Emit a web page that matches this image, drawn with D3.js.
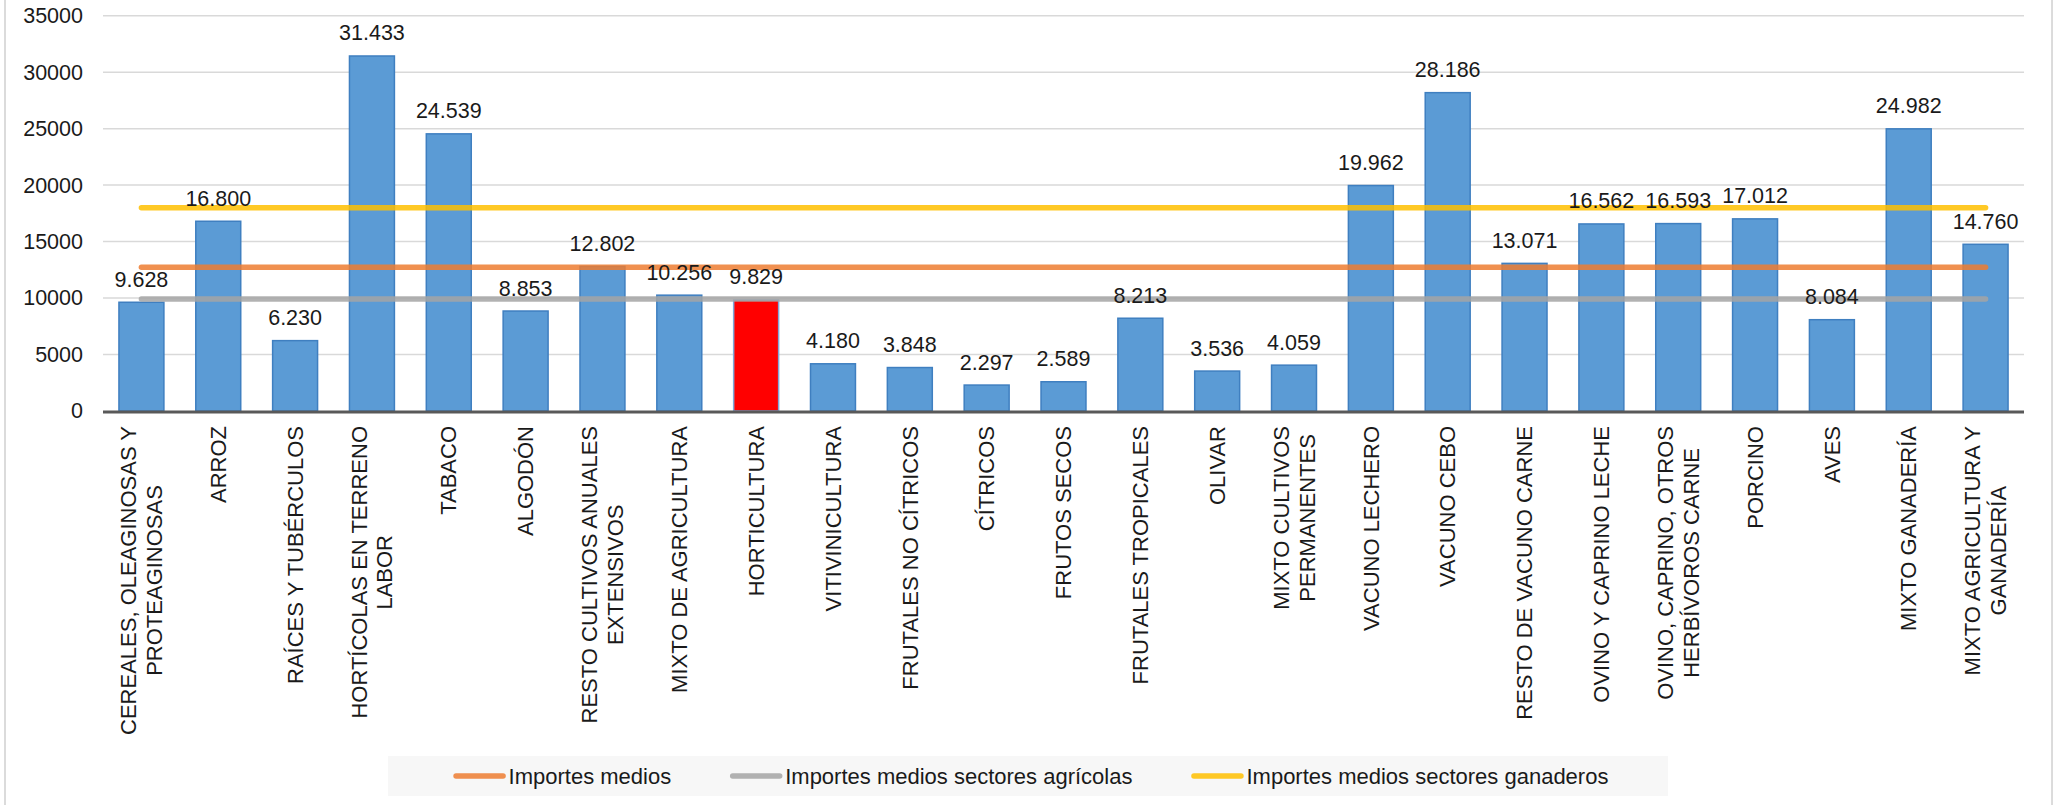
<!DOCTYPE html>
<html>
<head>
<meta charset="utf-8">
<script src="https://cdn.jsdelivr.net/npm/d3@7"></script>
<style>
  html, body { margin: 0; padding: 0; background: #fff; }
  svg { display: block; font-family: "Liberation Sans", Arial, sans-serif; }
</style>
</head>
<body>
<svg id="chart" width="2063" height="805"></svg>
<script>
// ---- DATA ----
const categories = [
  "CEREALES, OLEAGINOSAS Y\nPROTEAGINOSAS",
  "ARROZ",
  "RAÍCES Y TUBÉRCULOS",
  "HORTÍCOLAS EN TERRENO\nLABOR",
  "TABACO",
  "ALGODÓN",
  "RESTO CULTIVOS ANUALES\nEXTENSIVOS",
  "MIXTO DE AGRICULTURA",
  "HORTICULTURA",
  "VITIVINICULTURA",
  "FRUTALES NO CÍTRICOS",
  "CÍTRICOS",
  "FRUTOS SECOS",
  "FRUTALES TROPICALES",
  "OLIVAR",
  "MIXTO CULTIVOS\nPERMANENTES",
  "VACUNO LECHERO",
  "VACUNO CEBO",
  "RESTO DE VACUNO CARNE",
  "OVINO Y CAPRINO LECHE",
  "OVINO, CAPRINO, OTROS\nHERBÍVOROS CARNE",
  "PORCINO",
  "AVES",
  "MIXTO GANADERÍA",
  "MIXTO AGRICULTURA Y\nGANADERÍA"
];
const values = [9628, 16800, 6230, 31433, 24539, 8853, 12802, 10256, 9829, 4180,
                3848, 2297, 2589, 8213, 3536, 4059, 19962, 28186, 13071, 16562,
                16593, 17012, 8084, 24982, 14760];
const highlighted = ["HORTICULTURA"];
const lineNames = ["Importes medios", "Importes medios sectores agrícolas", "Importes medios sectores ganaderos"];
const lineValues = [12720, 9920, 18000];
const lineColors = ["#ED7D31", "#A5A5A5", "#FFC000"];
const yTicks = [0, 5000, 10000, 15000, 20000, 25000, 30000, 35000];

// ---- LAYOUT ----
const W = 2063, H = 805;
const plot = { left: 103, right: 2024, top: 15.7, bottom: 411 };
const svg = d3.select("#chart");

// outer frame
svg.append("rect")
  .attr("x", 5).attr("y", -5).attr("width", 2047).attr("height", H + 10)
  .attr("fill", "none").attr("stroke", "#D0D0D0").attr("stroke-width", 1.5);

const x = d3.scaleBand().domain(categories).range([plot.left, plot.right])
  .paddingInner(0.415).paddingOuter(0.2075);
const y = d3.scaleLinear().domain([0, 35000]).range([plot.bottom, plot.top]);

const fmt = d3.formatLocale({ decimal: ",", thousands: ".", grouping: [3], currency: ["", "€"] }).format(",d");

// gridlines
svg.append("g").selectAll("line").data(yTicks.filter(d => d > 0)).join("line")
  .attr("x1", plot.left).attr("x2", plot.right)
  .attr("y1", d => y(d)).attr("y2", d => y(d))
  .attr("stroke", "#D9D9D9").attr("stroke-width", 1.5);

// y axis labels
const yAxis = d3.axisLeft(y).tickValues(yTicks).tickSize(0).tickPadding(0).tickFormat(d3.format("d"));
const gy = svg.append("g").attr("transform", `translate(83,0)`).call(yAxis);
gy.select(".domain").remove();
gy.selectAll("text").attr("font-size", "21.5px").attr("fill", "#1a1a1a")
  .attr("font-family", "Liberation Sans, Arial, sans-serif");

// bars
const data = categories.map((c, i) => ({ c, v: values[i] }));
svg.append("g").selectAll("rect").data(data).join("rect")
  .attr("x", d => x(d.c)).attr("width", x.bandwidth())
  .attr("y", d => y(d.v)).attr("height", d => y(0) - y(d.v))
  .attr("fill", d => highlighted.includes(d.c) ? "#FF0000" : "#5B9BD5")
  .attr("stroke", d => highlighted.includes(d.c) ? "#7FA8DA" : "#3F7FC0")
  .attr("stroke-width", 1.5);

// x axis baseline
svg.append("line")
  .attr("x1", plot.left).attr("x2", plot.right)
  .attr("y1", y(0) + 1).attr("y2", y(0) + 1)
  .attr("stroke", "#595959").attr("stroke-width", 3);

// average lines
const lx1 = x(categories[0]) + x.bandwidth() / 2;
const lx2 = x(categories[categories.length - 1]) + x.bandwidth() / 2;
svg.append("g").selectAll("line").data(lineValues).join("line")
  .attr("x1", lx1).attr("x2", lx2)
  .attr("y1", d => y(d)).attr("y2", d => y(d))
  .attr("stroke", (d, i) => lineColors[i]).attr("stroke-opacity", 0.85)
  .attr("stroke-width", 5.5).attr("stroke-linecap", "round");

// data labels
svg.append("g").selectAll("text").data(data).join("text")
  .attr("x", d => x(d.c) + x.bandwidth() / 2)
  .attr("y", d => y(d.v) - 15.5)
  .attr("text-anchor", "middle")
  .attr("font-size", "21.5px").attr("fill", "#1a1a1a")
  .text(d => fmt(d.v));

// x labels (rotated, multi-line centered)
const lineH = 25.7;
const xl = svg.append("g");
categories.forEach(c => {
  const lines = c.split("\n");
  const g = xl.append("g")
    .attr("transform", `translate(${x(c) + x.bandwidth() / 2},426) rotate(-90)`);
  const texts = lines.map((t, i) => g.append("text")
    .attr("font-size", "22px").attr("fill", "#1a1a1a")
    .attr("y", (i - (lines.length - 1) / 2) * lineH)
    .attr("dy", "0.35em")
    .text(t));
  const maxLen = d3.max(texts, t => t.node().getComputedTextLength());
  texts.forEach(t => t.attr("text-anchor", "middle").attr("x", -maxLen / 2));
});

// legend
const legend = svg.append("g");
const lbox = legend.append("rect")
  .attr("x", 388).attr("y", 756).attr("width", 1280).attr("height", 40)
  .attr("fill", "#F7F7F7");
const items = legend.append("g");
let cx = 0;
lineNames.forEach((n, i) => {
  const it = items.append("g").attr("transform", `translate(${cx},0)`);
  it.append("line").attr("x1", 2.5).attr("x2", 49.5).attr("y1", 0).attr("y2", 0)
    .attr("stroke", lineColors[i]).attr("stroke-opacity", 0.85)
    .attr("stroke-width", 5.5).attr("stroke-linecap", "round");
  const t = it.append("text").attr("x", 55).attr("dy", "0.35em")
    .attr("font-size", "22px").attr("fill", "#1a1a1a").text(n);
  cx += 55 + t.node().getComputedTextLength() + 59;
});
const totalW = cx - 59;
items.attr("transform", `translate(${388 + 1280 / 2 - totalW / 2 + 3},776)`);
</script>
</body>
</html>
